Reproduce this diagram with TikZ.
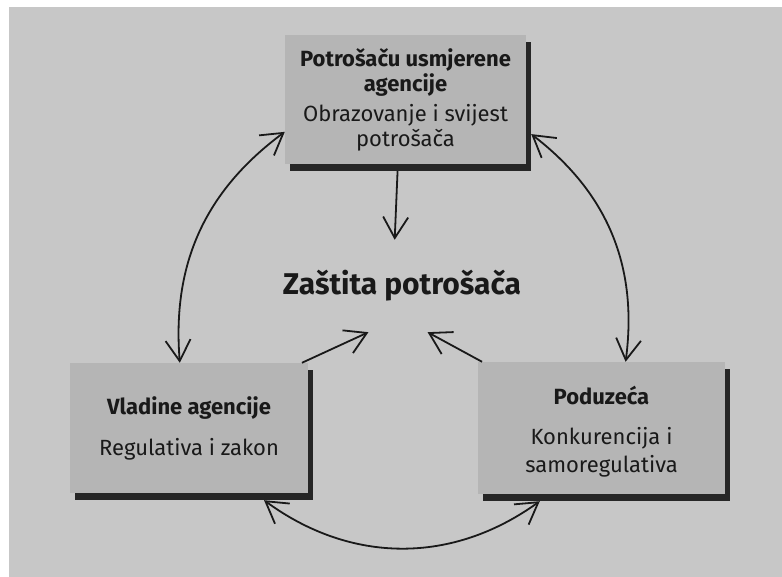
\documentclass[tikz,border=0pt]{standalone}
\usepackage{fontspec}
\setmainfont{Fira Sans}
\usepackage{xcolor}
\usetikzlibrary{arrows.meta,shadows}

\definecolor{pagegray}{gray}{0.78}
\definecolor{boxgray}{gray}{0.71}
\definecolor{ink}{gray}{0.10}

\tikzset{
  agency/.style={fill=boxgray, text=ink, align=center, inner sep=0pt,
    drop shadow={shadow xshift=5pt, shadow yshift=-7pt, fill=black!85, opacity=1},
    font=\fontsize{22}{26}\selectfont},
  barb/.tip={Straight Barb[length=21pt,width=25pt]},
  link/.style={draw=ink, line width=1.8pt, barb-barb},
  push/.style={draw=ink, line width=1.8pt, -barb}
}

\begin{document}
\begin{tikzpicture}[x=1pt, y=-1pt]
  \useasboundingbox (0,0) rectangle (782,577);
  % page
  \fill[white] (0,0) rectangle (782,577);
  \fill[pagegray] (9,7) rectangle (782,577);

  % the three parties
  \node[agency, minimum width=241pt, minimum height=129pt] (cons) at (405.5,99.5)
    {\textbf{Potrošaču usmjerene}\\[-1pt]\textbf{agencije}\\[4pt]Obrazovanje i svijest\\[-1pt]potrošača};
  \node[agency, minimum width=238pt, minimum height=130pt] (gov) at (189,428)
    {\textbf{Vladine agencije}\\[15pt]Regulativa i zakon};
  \node[agency, minimum width=247pt, minimum height=132pt] (firms) at (601.5,428)
    {\rule{0pt}{26pt}\textbf{Poduzeća}\\[14pt]Konkurencija i\\[2pt]samoregulativa};

  % goal in the middle
  \node[text=ink, font=\fontsize{30}{34}\selectfont\bfseries,
    minimum width=260pt, minimum height=92pt, inner sep=0pt] (goal) at (402,286)
    {Zaštita potrošača};

  % links between the parties
  \draw[link] (cons.195) to[bend right=29] (gov.98);
  \draw[link] ([xshift=5pt]cons.-16) to[bend left=30] (firms.70);
  \draw[link] ([yshift=-7pt]gov.-41) to[bend right=36] ([yshift=-7pt]firms.-133);

  % each party works towards the goal
  \draw[push] ([yshift=-7pt]cons.263) -- (goal.99);
  \draw[push] (gov.30) -- (goal.-126);
  \draw[push] (firms.151) -- (goal.-61);
\end{tikzpicture}
\end{document}
